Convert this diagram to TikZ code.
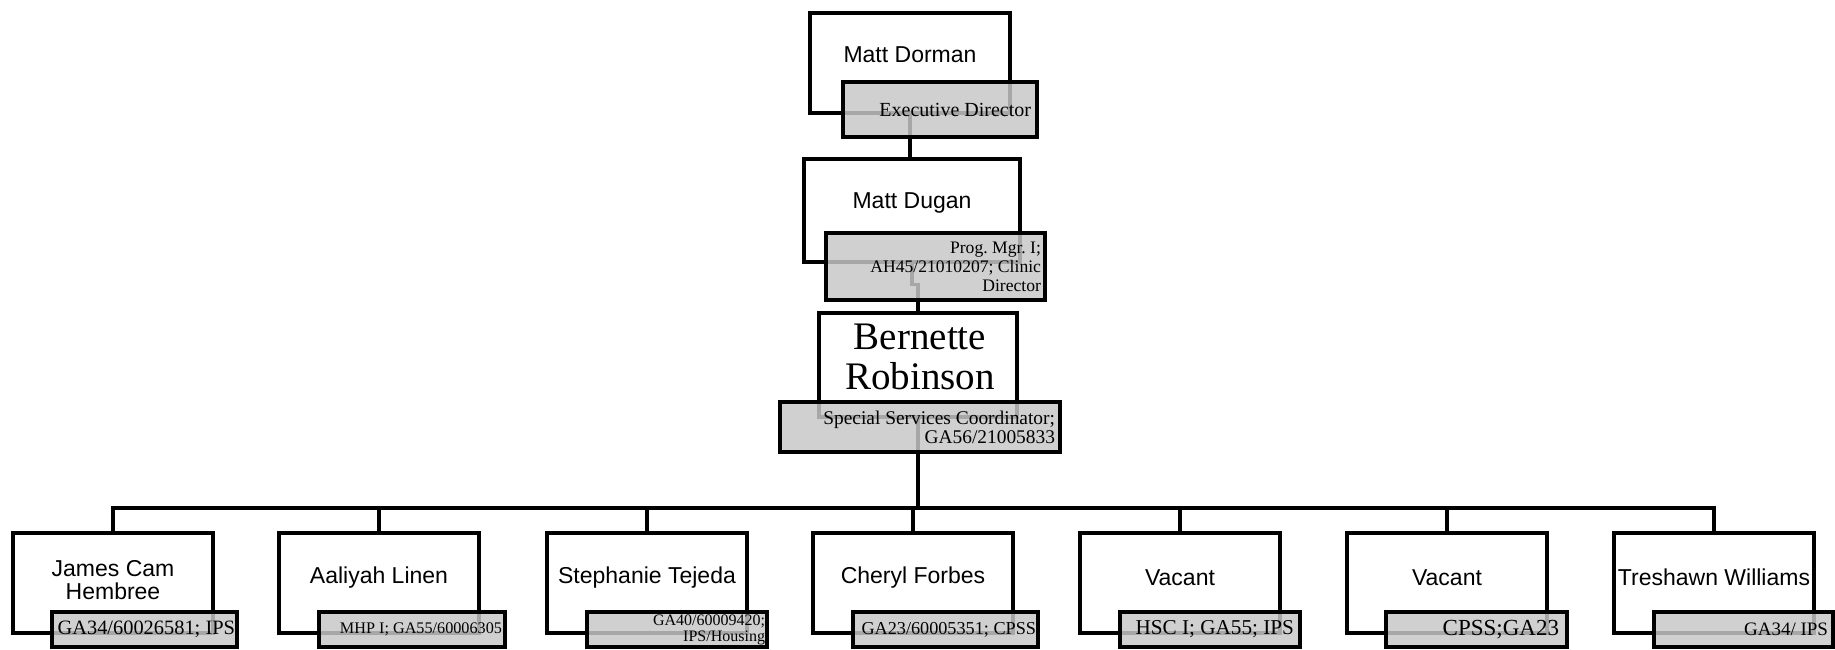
\documentclass[tikz,border=0pt]{standalone}
\usepackage{fontspec}
\setmainfont{Liberation Serif}
\setsansfont{Liberation Sans}
\definecolor{boxgray}{gray}{0.78}
\begin{document}
\frenchspacing
\begin{tikzpicture}[x=0.5pt,y=-0.5pt,
  wbox/.style={draw,line width=1.6pt,fill=white,inner sep=0pt},
  gbox/.style={draw,line width=1.6pt,fill=boxgray,fill opacity=0.84,text opacity=1,draw opacity=1,inner xsep=0pt,inner ysep=0pt,align=flush right},
  nm/.style={font=\sffamily\fontsize{11.5}{11.8}\selectfont,align=flush center,inner sep=0pt},
  conn/.style={line width=1.6pt}]
\path[use as bounding box, fill=white] (0,0) rectangle (1835,649);

% top white boxes
\node[wbox,minimum width=100pt,minimum height=50pt] (wDor) at (910,63) {};
\node[nm] (tDor) at (910,55) {Matt Dorman};
\node[wbox,minimum width=108pt,minimum height=51.5pt] (wDug) at (912,210.5) {};
\node[nm] (tDug) at (912,203) {Matt Dugan};
\node[wbox,minimum width=99pt,minimum height=52pt] (wBer) at (918,365) {};
\node[font=\rmfamily\fontsize{19.5}{20}\selectfont,align=flush center,inner sep=0pt] (tBer) at (920,357) {Bernette\\Robinson};

% bottom white boxes
\node[wbox,minimum width=100pt,minimum height=50pt] (b1) at (113,583) {};
\node[wbox,minimum width=100pt,minimum height=50pt] (b2) at (379,583) {};
\node[wbox,minimum width=100pt,minimum height=50pt] (b3) at (647,583) {};
\node[wbox,minimum width=100pt,minimum height=50pt] (b4) at (913,583) {};
\node[wbox,minimum width=100pt,minimum height=50pt] (b5) at (1180,583) {};
\node[wbox,minimum width=100pt,minimum height=50pt] (b6) at (1447,583) {};
\node[wbox,minimum width=100pt,minimum height=50pt] (b7) at (1714,583) {};
\node[nm] (t1) at (113,580) {James Cam\\Hembree};
\node[nm] (t2) at (379,578) {Aaliyah Linen};
\node[nm] (t3) at (647,578) {Stephanie Tejeda};
\node[nm] (t4) at (913,578) {Cheryl Forbes};
\node[nm] (t5) at (1180,578) {Vacant};
\node[nm] (t6) at (1447,578) {Vacant};
\node[nm] (t7) at (1714,577) {Treshawn Williams};

% connectors
\draw[conn] (wDor.south) -- (wDor.south |- wDug.north);
\draw[conn] (wDug.south) -- ++(0,21) -| (wBer.north);
\coordinate (bus) at (918,508);
\draw[conn] (wBer.south) -- (bus);
\draw[conn] (b1.north) |- (bus) -| (b7.north);
\foreach \i in {2,...,6} \draw[conn] (b\i.north) -- (b\i.north |- bus);

% gray title boxes
\node[gbox,minimum width=97pt,minimum height=27.5pt,text width=91pt,font=\rmfamily\fontsize{10}{11}\selectfont] (gDor) at (940,109.5) {Executive Director};
\node[gbox,minimum width=109.5pt,minimum height=33.5pt,text width=105.5pt,font=\rmfamily\fontsize{8.8}{9.5}\selectfont] (gDug) at (935.5,266.5) {Prog. Mgr. I;\\AH45/21010207; Clinic\\Director};
\node[gbox,minimum width=140pt,minimum height=25pt,text width=135pt,font=\rmfamily\fontsize{9.7}{9.5}\selectfont] (gBer) at (920,427) {Special Services Coordinator;\\GA56/21005833};

\node[gbox,minimum width=92.5pt,minimum height=17.5pt,text width=90.5pt,font=\rmfamily\fontsize{10.2}{11}\selectfont] (g1) at (144.5,629.5) {GA34/60026581; IPS};
\node[gbox,minimum width=93pt,minimum height=17.5pt,text width=90pt,font=\rmfamily\fontsize{8.1}{9}\selectfont] (g2) at (412,629.5) {MHP I; GA55/60006305};
\node[gbox,minimum width=90pt,minimum height=17.5pt,text width=88pt,font=\rmfamily\fontsize{8}{8}\selectfont] (g3) at (677,629.5) {GA40/60009420;\\IPS/Housing};
\node[gbox,minimum width=92.5pt,minimum height=17.5pt,text width=90.5pt,font=\rmfamily\fontsize{9.1}{10}\selectfont] (g4) at (945.5,629.5) {GA23/60005351; CPSS};
\node[gbox,minimum width=90pt,minimum height=17.5pt,text width=84pt,font=\rmfamily\fontsize{10.6}{11}\selectfont] (g5) at (1210,629.5) {HSC I; GA55; IPS};
\node[gbox,minimum width=90.5pt,minimum height=17.5pt,text width=82.5pt,font=\rmfamily\fontsize{11.5}{12}\selectfont] (g6) at (1476.5,629.5) {CPSS;GA23};
\node[gbox,minimum width=89.5pt,minimum height=17.5pt,text width=84.5pt,font=\rmfamily\fontsize{9.5}{10}\selectfont] (g7) at (1743.5,629.5) {GA34/ IPS};
\end{tikzpicture}
\end{document}
